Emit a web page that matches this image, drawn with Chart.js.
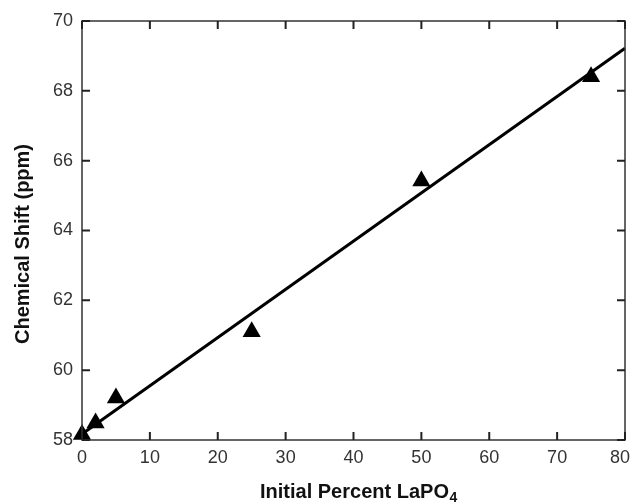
<!DOCTYPE html>
<html>
<head>
<meta charset="utf-8">
<script src="https://cdn.jsdelivr.net/npm/chart.js@4"></script>
<style>
html,body{margin:0;padding:0;background:#fff;}
#wrap{width:631px;height:502px;position:relative;}
</style>
</head>
<body>
<div id="wrap"><canvas id="c" width="631" height="502"></canvas></div>
<script>
// Data
const percentLaPO4 = [0, 2, 5, 25, 50, 75];
const chemicalShift = [58.16, 58.49, 59.20, 61.10, 65.42, 68.40];
const fitX = [0, 80];
const fitY = [58.17, 69.22];
const xTicks = [0, 10, 20, 30, 40, 50, 60, 70, 80];
const yTicks = [58, 60, 62, 64, 66, 68, 70];

const pts = percentLaPO4.map((x, i) => ({x, y: chemicalShift[i]}));
const fit = fitX.map((x, i) => ({x, y: fitY[i]}));

const FONT = '"Liberation Sans", Arial, sans-serif';

const frameTicks = {
  id: 'frameTicks',
  afterDraw(chart) {
    const {ctx, chartArea: a, scales: {x, y}} = chart;
    ctx.save();
    ctx.strokeStyle = '#333';
    ctx.lineWidth = 1.5;
    ctx.strokeRect(a.left, a.top, a.right - a.left, a.bottom - a.top);
    ctx.lineWidth = 2;
    ctx.strokeStyle = '#222';
    const L = 8;
    xTicks.forEach(v => {
      const px = x.getPixelForValue(v);
      ctx.beginPath();
      ctx.moveTo(px, a.bottom); ctx.lineTo(px, a.bottom - L);
      ctx.moveTo(px, a.top); ctx.lineTo(px, a.top + L);
      ctx.stroke();
    });
    yTicks.forEach(v => {
      const py = y.getPixelForValue(v);
      ctx.beginPath();
      ctx.moveTo(a.left, py); ctx.lineTo(a.left + L, py);
      ctx.moveTo(a.right, py); ctx.lineTo(a.right - L, py);
      ctx.stroke();
    });
    // x tick labels (kept inside the canvas)
    ctx.fillStyle = '#333';
    ctx.font = '18px ' + FONT;
    ctx.textBaseline = 'alphabetic';
    ctx.textAlign = 'center';
    const W = chart.width;
    x.ticks.forEach(t => {
      const label = String(t.value);
      const w = ctx.measureText(label).width;
      let px = x.getPixelForValue(t.value);
      if (px + w / 2 > W - 1) px = W - 1 - w / 2;
      ctx.fillText(label, px, a.bottom + 23);
    });
    // titles
    ctx.fillStyle = '#111';
    const main = 'Initial Percent LaPO';
    const sub = '4';
    ctx.font = 'bold 20px ' + FONT;
    const wMain = ctx.measureText(main).width;
    const startX = 260;
    ctx.textAlign = 'left';
    ctx.fillText(main, startX, 498);
    ctx.font = 'bold 14px ' + FONT;
    ctx.fillText(sub, startX + wMain + 0.5, 502);
    ctx.save();
    ctx.translate(29, 244);
    ctx.rotate(-Math.PI / 2);
    ctx.font = 'bold 20px ' + FONT;
    ctx.textAlign = 'center';
    ctx.fillText('Chemical Shift (ppm)', 0, 0);
    ctx.restore();
    ctx.restore();
  }
};

new Chart(document.getElementById('c'), {
  type: 'scatter',
  data: {
    datasets: [
      {
        type: 'line',
        data: fit,
        borderColor: '#000',
        borderWidth: 3,
        pointRadius: 0,
        fill: false,
        clip: false,
        order: 2
      },
      {
        data: pts,
        pointStyle: 'triangle',
        pointRadius: 10.5,
        pointHoverRadius: 10.5,
        backgroundColor: '#000',
        borderColor: '#000',
        borderWidth: 0,
        clip: false,
        order: 1
      }
    ]
  },
  options: {
    responsive: false,
    animation: false,
    events: [],
    layout: {autoPadding: false, padding: {top: 21, right: 6, left: 0, bottom: 0}},
    plugins: {legend: {display: false}, tooltip: {enabled: false}},
    scales: {
      x: {
        type: 'linear', min: 0, max: 80,
        afterBuildTicks: s => { s.ticks = xTicks.map(v => ({value: v})); },
        afterFit: s => { s.height = 62; s.paddingLeft = 0; s.paddingRight = 0; },
        grid: {display: false, drawTicks: false},
        border: {display: false},
        ticks: {display: false}
      },
      y: {
        type: 'linear', min: 58, max: 70,
        afterBuildTicks: s => { s.ticks = yTicks.map(v => ({value: v})); },
        afterFit: s => { s.width = 82; s.paddingTop = 0; s.paddingBottom = 0; },
        grid: {display: false, drawTicks: false},
        border: {display: false},
        ticks: {padding: 9, color: '#333', font: {family: FONT, size: 18}}
      }
    }
  },
  plugins: [frameTicks]
});
</script>
</body>
</html>
